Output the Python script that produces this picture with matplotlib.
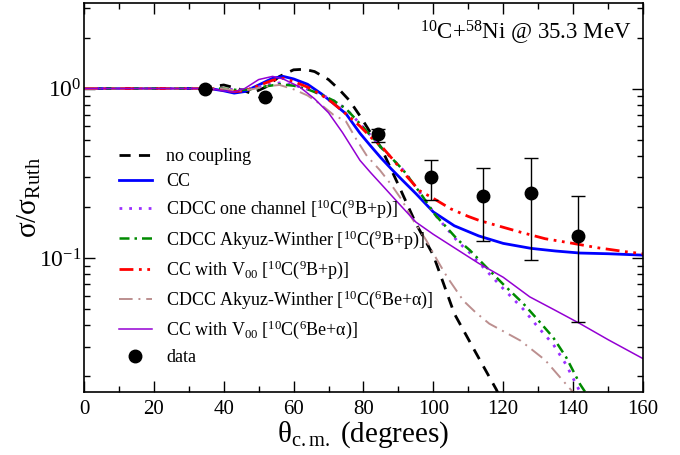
import numpy as np
import matplotlib
matplotlib.use("Agg")
import matplotlib.pyplot as plt
from matplotlib.ticker import MultipleLocator, LogLocator, NullFormatter

plt.rcParams['font.family'] = ['Liberation Serif', 'DejaVu Serif']
plt.rcParams['mathtext.fontset'] = 'custom'
plt.rcParams['mathtext.rm'] = 'Liberation Serif'
plt.rcParams['mathtext.it'] = 'Liberation Serif:italic'

# no coupling (black dashed)
nc_x = [0, 20, 30, 36, 40, 44, 48, 52, 56, 60, 63, 66, 70, 73, 76, 79, 82, 85, 90, 95, 100, 106, 112, 118, 121]
nc_y = [1.0, 1.0, 1.0, 1.02, 1.05, 1.0, 0.935, 1.02, 1.18, 1.29, 1.30, 1.26, 1.13, 0.99, 0.85, 0.69, 0.55,
        0.45, 0.27, 0.16, 0.104, 0.047, 0.028, 0.0168, 0.0125]

# CC (blue)
cc_x = [0, 30, 36, 40, 43, 46, 50, 54, 57, 60, 64, 68, 71, 75, 79, 82, 85, 88, 91, 95, 100, 106, 113, 120,
        128, 135, 142, 150, 160]
cc_y = [1.0, 1.0, 1.0, 0.97, 0.94, 0.96, 1.05, 1.15, 1.18, 1.14, 1.06, 0.93, 0.83, 0.71, 0.545, 0.46, 0.39,
        0.335, 0.29, 0.24, 0.187, 0.155, 0.135, 0.122, 0.114, 0.110, 0.107, 0.106, 0.104]

# CDCC one channel 9B+p (purple dotted)
cdcc1_x = [0, 30, 36, 40, 44, 48, 52, 56, 60, 64, 68, 71.4, 75, 79, 82, 85, 88, 91.4, 94, 97, 100.5, 104,
           107, 110.5, 115, 120, 125.7, 130, 134.3, 138, 141, 144]
cdcc1_y = [1.0, 1.0, 1.0, 1.0, 0.98, 1.0, 1.05, 1.08, 1.05, 0.99, 0.92, 0.85, 0.76, 0.62, 0.53, 0.45, 0.39,
           0.33, 0.28, 0.23, 0.18, 0.148, 0.125, 0.107, 0.085, 0.066, 0.05, 0.039, 0.031, 0.0235, 0.0178, 0.0135]

# CDCC Akyuz-Winther 9B+p (green dash-dot)
cdaw_x = [0, 30, 36, 40, 44, 48, 52, 56, 60, 64, 68, 71.4, 75, 79, 82, 85, 88, 91.4, 94, 97, 100.5, 104,
          107, 110.5, 115, 120, 125.7, 130, 134.3, 138, 142, 145]
cdaw_y = [1.0, 1.0, 1.0, 1.0, 0.98, 0.99, 1.03, 1.06, 1.04, 0.99, 0.92, 0.85, 0.76, 0.62, 0.53, 0.45, 0.39,
          0.33, 0.28, 0.23, 0.18, 0.15, 0.128, 0.111, 0.089, 0.07, 0.054, 0.043, 0.034, 0.026, 0.018, 0.0145]

# CC with V00 9B+p (red dash-dot-dot)
v9_x = [0, 30, 36, 40, 43, 46, 50, 54, 57, 60, 64, 67.5, 71, 76, 79, 83, 85, 88.5, 92, 96, 100, 105, 110,
        113, 118, 125, 132, 140, 147, 155, 160]
v9_y = [1.0, 1.0, 1.0, 0.98, 0.96, 0.97, 1.04, 1.12, 1.15, 1.10, 1.02, 0.93, 0.83, 0.68, 0.60, 0.495, 0.46,
        0.38, 0.31, 0.25, 0.225, 0.195, 0.176, 0.167, 0.156, 0.142, 0.13, 0.122, 0.115, 0.109, 0.106]

# CDCC Akyuz-Winther 6Be+alpha (rosy dash-dot)
aw6_x = [0, 30, 36, 40, 44, 48, 52, 56, 60, 64, 68, 71.4, 75, 78, 81, 84.7, 88, 91, 94, 98, 101, 104,
         108.6, 112, 116, 120, 125, 132, 138, 142]
aw6_y = [1.0, 1.0, 1.0, 1.0, 0.97, 0.99, 1.03, 1.05, 0.99, 0.91, 0.80, 0.70, 0.64, 0.50, 0.40, 0.33, 0.27,
         0.22, 0.17, 0.127, 0.098, 0.077, 0.056, 0.048, 0.041, 0.037, 0.0325, 0.025, 0.018, 0.0145]

# CC with V00 6Be+alpha (thin violet)
v6_x = [0, 30, 36, 40, 43, 46, 50, 54, 57, 61.8, 66, 70, 74, 79, 82, 86, 90, 95, 100, 106, 113, 120, 127.6,
        135, 142, 150, 160]
v6_y = [1.0, 1.0, 1.0, 0.97, 0.955, 1.0, 1.13, 1.18, 1.14, 1.02, 0.87, 0.72, 0.55, 0.377, 0.32, 0.26, 0.211,
        0.163, 0.138, 0.115, 0.093, 0.077, 0.059, 0.049, 0.041, 0.033, 0.0255]

# data
data_x = [34.6, 51.8, 84.1, 99.3, 114.1, 127.9, 141.3]
data_y = [1.0, 0.89, 0.537, 0.30, 0.231, 0.242, 0.135]
data_lo = [1.0, 0.89, 0.484, 0.221, 0.126, 0.097, 0.042]
data_hi = [1.0, 0.89, 0.58, 0.381, 0.34, 0.389, 0.231]

fig = plt.figure(figsize=(6.8, 4.55), dpi=100)
ax = fig.add_axes([0.1235, 0.1385, 0.822, 0.855])

ax.plot(nc_x, nc_y, color='black', lw=2, ls=(0, (4, 3)), label='no coupling')
ax.plot(cc_x, cc_y, color='#0000ff', lw=2, label='CC')
ax.plot(cdcc1_x, cdcc1_y, color='#9b30ff', lw=2, ls=(0, (1, 2.5)),
        label=r'CDCC one channel [$^{10}$C($^{9}$B+p)]')
ax.plot(cdaw_x, cdaw_y, color='#008b00', lw=1.8, ls=(0, (4, 2, 1, 2)),
        label=r'CDCC Akyuz-Winther [$^{10}$C($^{9}$B+p)]')
ax.plot(v9_x, v9_y, color='#ff0000', lw=2, ls=(0, (5, 2, 1, 2, 1, 2)),
        label=r'CC with V$_{00}$ [$^{10}$C($^{9}$B+p)]')
ax.plot(aw6_x, aw6_y, color='#bc8f8f', lw=1.4, ls=(0, (7, 3, 1, 3)),
        label=r'CDCC Akyuz-Winther [$^{10}$C($^{6}$Be+α)]')
ax.plot(v6_x, v6_y, color='#9400d3', lw=1.1, label=r'CC with V$_{00}$ [$^{10}$C($^{6}$Be+α)]')

yerr = [np.array(data_y) - np.array(data_lo), np.array(data_hi) - np.array(data_y)]
ax.errorbar(data_x, data_y, yerr=yerr, fmt='none', ecolor='black', elinewidth=1,
            capsize=5, capthick=1)
ax.plot(data_x, data_y, 'o', color='black', ms=9, label='data')

ax.set_xlim(0, 160)
ax.set_yscale('log')
ax.set_ylim(0.0162, 3.2)

ax.xaxis.set_major_locator(MultipleLocator(20))
ax.xaxis.set_minor_locator(MultipleLocator(10))
ax.yaxis.set_minor_locator(LogLocator(base=10, subs=np.arange(2, 10)))
ax.yaxis.set_minor_formatter(NullFormatter())
ax.tick_params(which='both', direction='in', top=True, right=True, width=1)
ax.tick_params(which='major', length=8, labelsize=15)
ax.tick_params(which='minor', length=4.5)
ax.tick_params(axis='x', which='major', pad=6)
ax.tick_params(axis='y', which='major', labelsize=17, pad=2)
for s in ax.spines.values():
    s.set_linewidth(1.2)

ax.set_xlabel(r'θ$_{\mathrm{c.m.}}$ (degrees)', fontsize=21, labelpad=0)
ax.set_ylabel(r'σ/σ$_{\mathrm{Ruth}}$', fontsize=21)
ax.yaxis.set_label_coords(-0.073, 0.5)

ax.text(0.98, 0.923, r'$^{10}$C+$^{58}$Ni @ 35.3 MeV', transform=ax.transAxes,
        ha='right', va='center', fontsize=16.5)

ax.legend(loc='upper left', bbox_to_anchor=(0.05, 0.645), frameon=False, fontsize=13,
          handlelength=1.8, handletextpad=0.8, labelspacing=0.43, borderaxespad=0)

fig.savefig('out.png', dpi=100)
